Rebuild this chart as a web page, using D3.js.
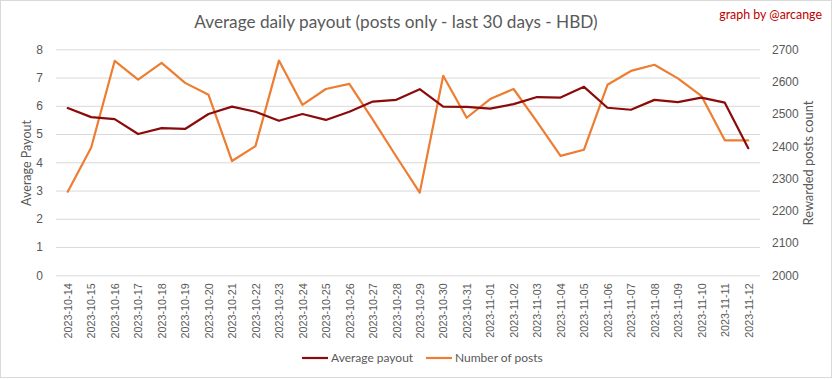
<!DOCTYPE html>
<html>
<head>
<meta charset="utf-8">
<script src="https://cdn.jsdelivr.net/npm/d3@7"></script>
<style>
  html, body { margin: 0; padding: 0; background: #fff; }
  svg { display: block; font-family: Lato, "Open Sans", sans-serif; }
</style>
</head>
<body>
<svg id="chart" width="833" height="379"></svg>
<script>
const dates = ["2023-10-14","2023-10-15","2023-10-16","2023-10-17","2023-10-18","2023-10-19","2023-10-20","2023-10-21","2023-10-22","2023-10-23","2023-10-24","2023-10-25","2023-10-26","2023-10-27","2023-10-28","2023-10-29","2023-10-30","2023-10-31","2023-11-01","2023-11-02","2023-11-03","2023-11-04","2023-11-05","2023-11-06","2023-11-07","2023-11-08","2023-11-09","2023-11-10","2023-11-11","2023-11-12"];
const avgPayout = [5.92,5.60,5.53,5.00,5.21,5.18,5.71,5.97,5.79,5.47,5.71,5.50,5.79,6.15,6.21,6.59,5.97,5.96,5.90,6.06,6.31,6.29,6.67,5.93,5.86,6.21,6.13,6.29,6.11,4.50];
const postCount = [2259,2396,2664,2606,2658,2596,2559,2354,2400,2665,2528,2577,2593,2482,2368,2256,2618,2488,2546,2577,2475,2370,2389,2590,2633,2652,2610,2556,2418,2418];
const leftTicks = [0,1,2,3,4,5,6,7,8];
const rightTicks = [2000,2100,2200,2300,2400,2500,2600,2700];
const titleText = "Average daily payout (posts only - last 30 days - HBD)";
const creditText = "graph by @arcange";
const leftTitle = "Average Payout";
const rightTitle = "Rewarded posts count";
const seriesNames = ["Average payout", "Number of posts"];

const svg = d3.select("#chart");
const W = 833, H = 379;
const plot = {left: 56, right: 760, top: 49.3, bottom: 275.3};
const colRed = "#8B0A0A", colOrange = "#ED7D31", txt = "#595959", grid = "#D9D9D9";

svg.append("rect").attr("x", 0.5).attr("y", 0.5).attr("width", W - 2).attr("height", H - 2)
  .attr("fill", "#fff").attr("stroke", grid).attr("stroke-width", 1);

const x = d3.scalePoint().domain(dates).range([plot.left, plot.right]).padding(0.5);
const yL = d3.scaleLinear().domain([0, 8]).range([plot.bottom, plot.top]);
const yR = d3.scaleLinear().domain([2000, 2700]).range([plot.bottom, plot.top]);

// left axis with gridlines
const gL = svg.append("g").attr("transform", `translate(${plot.left},0)`)
  .call(d3.axisLeft(yL).tickValues(leftTicks).tickSize(-(plot.right - plot.left)).tickPadding(13).tickFormat(d3.format("d")));
gL.select(".domain").remove();
gL.selectAll(".tick line").attr("stroke", grid).attr("stroke-width", 1);
gL.selectAll(".tick text").attr("fill", txt).attr("font-size", 12);

// right axis
const gR = svg.append("g").attr("transform", `translate(${plot.right},0)`)
  .call(d3.axisRight(yR).tickValues(rightTicks).tickSize(0).tickPadding(12).tickFormat(d3.format("d")));
gR.select(".domain").remove();
gR.selectAll(".tick text").attr("fill", txt).attr("font-size", 12);

// x axis
const gX = svg.append("g").attr("transform", `translate(0,${plot.bottom})`)
  .call(d3.axisBottom(x).tickSize(0));
gX.select(".domain").remove();
gX.selectAll(".tick text")
  .attr("fill", txt).attr("font-size", 10.8)
  .attr("text-anchor", "end")
  .attr("transform", "rotate(-90)")
  .attr("x", -8).attr("y", 0).attr("dy", "0.35em");

// lines
const lineL = d3.line().x((d, i) => x(dates[i])).y(d => yL(d));
const lineR = d3.line().x((d, i) => x(dates[i])).y(d => yR(d));
svg.append("path").datum(postCount).attr("d", lineR).attr("fill", "none")
  .attr("stroke", colOrange).attr("stroke-width", 2.2).attr("stroke-linejoin", "round").attr("stroke-linecap", "round");
svg.append("path").datum(avgPayout).attr("d", lineL).attr("fill", "none")
  .attr("stroke", colRed).attr("stroke-width", 2.2).attr("stroke-linejoin", "round").attr("stroke-linecap", "round");

// title
svg.append("text").attr("x", 396).attr("y", 28).attr("text-anchor", "middle")
  .attr("fill", txt).attr("font-size", 17.2).text(titleText);
svg.append("text").attr("x", 822).attr("y", 19).attr("text-anchor", "end")
  .attr("fill", "#C00000").attr("font-size", 12.4).text(creditText);

// axis titles
svg.append("text").attr("transform", "translate(31,163) rotate(-90)").attr("text-anchor", "middle")
  .attr("fill", txt).attr("font-size", 12.5).text(leftTitle);
svg.append("text").attr("transform", "translate(813,163) rotate(-90)").attr("text-anchor", "middle")
  .attr("fill", txt).attr("font-size", 12.8).text(rightTitle);

// legend
const legend = [{name: seriesNames[0], color: colRed, x: 302}, {name: seriesNames[1], color: colOrange, x: 426}];
const lg = svg.append("g");
legend.forEach(l => {
  lg.append("line").attr("x1", l.x).attr("x2", l.x + 26).attr("y1", 358).attr("y2", 358)
    .attr("stroke", l.color).attr("stroke-width", 2.2);
  lg.append("text").attr("x", l.x + 29).attr("y", 358).attr("dy", "0.35em")
    .attr("fill", txt).attr("font-size", 12).text(l.name);
});
</script>
</body>
</html>
